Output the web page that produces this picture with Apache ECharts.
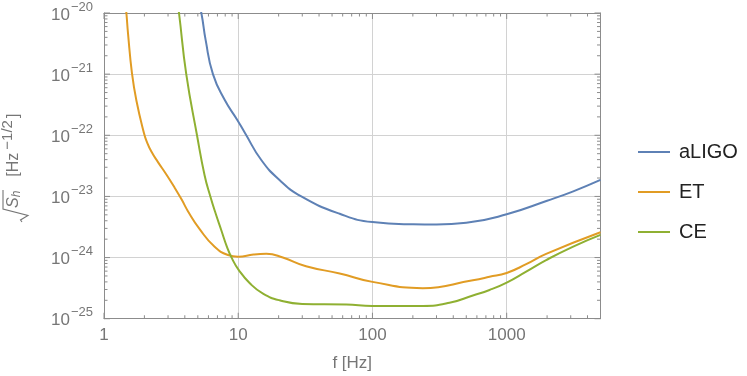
<!DOCTYPE html>
<html>
<head>
<meta charset="utf-8">
<script src="https://cdn.jsdelivr.net/npm/echarts@6/dist/echarts.min.js"></script>
<style>
html,body{margin:0;padding:0;background:#fff;}
#chart{width:747px;height:376px;}
</style>
</head>
<body>
<div id="chart"></div>
<script>
// ---- data ----
const seriesNames = ['aLIGO', 'ET', 'CE'];
const aligoFreq = [5.0, 5.31, 5.72, 6.48, 7.92, 9.84, 11.2, 14.9, 20.3, 29.5, 57, 100, 200, 300, 500, 1000, 2000, 3100, 5000];
const aligoASD  = [1.6e-20, 1.0e-20, 3.6e-21, 1.0e-21, 3.8e-22, 1.78e-22, 1.1e-22, 3.9e-23, 1.86e-23, 1.0e-23, 5.2e-24, 3.8e-24, 3.5e-24, 3.47e-24, 3.7e-24, 5.1e-24, 8.5e-24, 1.2e-23, 1.86e-23];
const etFreq = [1.42, 1.468, 1.509, 1.616, 1.743, 1.986, 2.089, 2.254, 2.524, 2.915, 3.36, 3.79, 4.22, 5.16, 6.67, 8.38, 10, 13, 16.2, 21.5, 32, 57, 100, 237, 560, 745, 1000, 1397, 1968, 5000];
const etASD  = [2.0e-20, 1.0e-20, 4.7e-21, 1.03e-21, 3.7e-22, 1.08e-22, 7.74e-23, 5.41e-23, 3.64e-23, 2.28e-23, 1.39e-23, 8.87e-24, 5.74e-24, 2.92e-24, 1.5e-24, 1.1e-24, 1.03e-24, 1.12e-24, 1.15e-24, 1.0e-24, 7.2e-25, 5.5e-25, 4.0e-25, 3.16e-25, 4.27e-25, 4.84e-25, 5.6e-25, 7.8e-25, 1.15e-24, 2.6e-24];
const ceFreq = [3.5, 3.62, 4.1, 4.93, 5.62, 6.2, 6.79, 7.48, 8.24, 8.98, 10.07, 12.2, 15.3, 20.3, 30, 64, 100, 237, 375, 560, 745, 1000, 1397, 1968, 3100, 5000];
const ceASD  = [1.6e-20, 1.0e-20, 1.0e-21, 1.0e-22, 2.2e-23, 1.0e-23, 5.25e-24, 2.8e-24, 1.5e-24, 9.7e-25, 6.3e-25, 3.8e-25, 2.57e-25, 2.0e-25, 1.74e-25, 1.7e-25, 1.62e-25, 1.62e-25, 1.82e-25, 2.4e-25, 2.95e-25, 3.9e-25, 5.9e-25, 9.1e-25, 1.5e-24, 2.35e-24];

// axis ranges and tick labels
const xMin = 1, xMax = 5000;
const yMin = 1e-25, yMax = 1e-20;
const xTickExps = [0, 1, 2, 3];
const xTickLabels = ['1', '10', '100', '1000'];
const yTickExps = [-25, -24, -23, -22, -21, -20];
const yTickLabels = ['−25', '−24', '−23', '−22', '−21', '−20'];
const minorMultipliers = [2, 3, 4, 5, 6, 7, 8, 9];

// ECharts rounds values below 1e-20 to zero on log axes, so the y axis works in units of 1e-25
const yUnitExp = -25;
const yUnit = 1e-25;
const toAxis = v => v / yUnit;

// ---- styles ----
const colors = ['#5E81B5', '#E19C24', '#8FB032'];
const textGray = '#767676';
const frameGray = '#8c8c8c';
const gridGray = '#d2d2d2';
const FONT = '"Liberation Sans", Arial, sans-serif';
const MAJOR_LEN = 6, MINOR_LEN = 3.5;

function pairs(xs, ys) { return xs.map((x, i) => [x, toAxis(ys[i])]); }
const yMinA = toAxis(yMin), yMaxA = toAxis(yMax);
function isPow10(v) { const l = Math.log10(v); return Math.abs(l - Math.round(l)) < 1e-6; }

// tick positions (data values)
const xMajorVals = xTickExps.map(e => Math.pow(10, e));
const xMinorVals = [];
xMajorVals.forEach(b => minorMultipliers.forEach(m => { if (m * b < xMax) xMinorVals.push(m * b); }));
const yMajorVals = yTickExps.map(e => Math.pow(10, e - yUnitExp));
const yMinorVals = [];
yMajorVals.forEach(b => { if (b < yMaxA) minorMultipliers.forEach(m => yMinorVals.push(m * b)); });

const chart = echarts.init(document.getElementById('chart'), null, { renderer: 'canvas' });

const lineSeries = [pairs(aligoFreq, aligoASD), pairs(etFreq, etASD), pairs(ceFreq, ceASD)].map((d, i) => ({
  name: seriesNames[i],
  type: 'line',
  data: d,
  showSymbol: false,
  symbol: 'none',
  smooth: 0.5,
  clip: true,
  lineStyle: { color: colors[i], width: 2 },
  itemStyle: { color: colors[i] },
  z: 3
}));

// inward frame ticks drawn as thin rect symbols placed by the axes' scales
function tickSeries(data, size, offset) {
  return {
    type: 'scatter', silent: true, clip: false, animation: false,
    data: data, symbol: 'rect', symbolSize: size, symbolOffset: offset,
    itemStyle: { color: frameGray, opacity: 1 },
    emphasis: { disabled: true }, z: 5
  };
}
const tickSeriesList = [
  tickSeries(xMajorVals.map(v => [v, yMinA]), [1, MAJOR_LEN], [0, -MAJOR_LEN / 2]),
  tickSeries(xMinorVals.map(v => [v, yMinA]), [1, MINOR_LEN], [0, -MINOR_LEN / 2]),
  tickSeries(xMajorVals.map(v => [v, yMaxA]), [1, MAJOR_LEN], [0, MAJOR_LEN / 2]),
  tickSeries(xMinorVals.map(v => [v, yMaxA]), [1, MINOR_LEN], [0, MINOR_LEN / 2]),
  tickSeries(yMajorVals.map(v => [xMin, v]), [MAJOR_LEN, 1], [MAJOR_LEN / 2, 0]),
  tickSeries(yMinorVals.map(v => [xMin, v]), [MINOR_LEN, 1], [MINOR_LEN / 2, 0]),
  tickSeries(yMajorVals.map(v => [xMax, v]), [MAJOR_LEN, 1], [-MAJOR_LEN / 2, 0]),
  tickSeries(yMinorVals.map(v => [xMax, v]), [MINOR_LEN, 1], [-MINOR_LEN / 2, 0])
];

const option = {
  animation: false,
  backgroundColor: '#fff',
  color: colors,
  grid: { left: 104, right: 146.5, top: 13, bottom: 57.3, containLabel: false, outerBoundsMode: 'none' },
  legend: {
    orient: 'vertical',
    left: 633,
    top: 137,
    itemWidth: 32,
    itemHeight: 14,
    itemGap: 20,
    icon: 'path://M0,0 L32,0 L32,2 L0,2 Z',
    data: seriesNames.map((n, i) => ({ name: n, itemStyle: { color: colors[i] } })),
    textStyle: { fontFamily: FONT, fontSize: 20, color: '#222', lineHeight: 20, padding: [0, 0, 0, 4] }
  },
  xAxis: [{
    type: 'log', logBase: 10, min: xMin, max: xMax,
    name: 'f [Hz]', nameLocation: 'middle', nameGap: 36,
    nameTextStyle: { fontFamily: FONT, fontSize: 17, color: textGray },
    axisLine: { show: true, lineStyle: { color: frameGray, width: 1 } },
    axisTick: { show: false },
    minorTick: { show: false },
    splitLine: { show: true, lineStyle: { color: gridGray, width: 1 } },
    axisLabel: {
      margin: 8, fontFamily: FONT, fontSize: 17, color: textGray,
      showMinLabel: true, showMaxLabel: true,
      formatter: v => isPow10(v) ? (xTickLabels[xTickExps.indexOf(Math.round(Math.log10(v)))] || '') : ''
    }
  }, {
    type: 'log', logBase: 10, min: xMin, max: xMax, position: 'top',
    axisLine: { show: true, lineStyle: { color: frameGray, width: 1 } },
    axisTick: { show: false }, axisLabel: { show: false }, splitLine: { show: false }
  }],
  yAxis: [{
    type: 'log', logBase: 10, min: yMinA, max: yMaxA,
    axisLine: { show: true, lineStyle: { color: frameGray, width: 1 } },
    axisTick: { show: false },
    minorTick: { show: false },
    splitLine: { show: true, lineStyle: { color: gridGray, width: 1 } },
    axisLabel: {
      margin: 11,
      formatter: v => {
        const e = Math.round(Math.log10(v)) + yUnitExp;
        const i = yTickExps.indexOf(e);
        return i < 0 ? '' : '{b|10}{s|' + yTickLabels[i] + '}';
      },
      rich: {
        b: { fontFamily: FONT, fontSize: 17, color: textGray, padding: [4, 0, 0, 0] },
        s: { fontFamily: FONT, fontSize: 13, color: textGray, padding: [0, 0, 12, 1] }
      }
    }
  }, {
    type: 'log', logBase: 10, min: yMinA, max: yMaxA, position: 'right',
    axisLine: { show: true, lineStyle: { color: frameGray, width: 1 } },
    axisTick: { show: false }, axisLabel: { show: false }, splitLine: { show: false }
  }],
  series: lineSeries.concat(tickSeriesList),
  graphic: {
    elements: [{
      type: 'group',
      x: 27, y: 224,
      rotation: Math.PI / 2,
      silent: true,
      children: [
        { type: 'polyline', shape: { points: [[2, -5], [4, -6.5], [8.5, 1], [15, -24], [34, -24]] },
          style: { stroke: textGray, lineWidth: 1.1, fill: null } },
        { type: 'text', x: 16, y: 0,
          style: {
            text: '{s|S}{h|h}{n|[Hz}{p|−1/2}{c|]}',
            verticalAlign: 'bottom', align: 'left',
            rich: {
              s: { fontFamily: FONT, fontSize: 16, fontStyle: 'italic', fill: textGray },
              h: { fontFamily: FONT, fontSize: 12, fontStyle: 'italic', fill: textGray, padding: [6, 0, 0, 0] },
              n: { fontFamily: FONT, fontSize: 16, fill: textGray, padding: [0, 0, 0, 14] },
              p: { fontFamily: FONT, fontSize: 15, fill: textGray, padding: [0, 2, 12, 3] },
              c: { fontFamily: FONT, fontSize: 16, fill: textGray }
            }
          } }
      ]
    }]
  }
};

chart.setOption(option);
</script>
</body>
</html>
